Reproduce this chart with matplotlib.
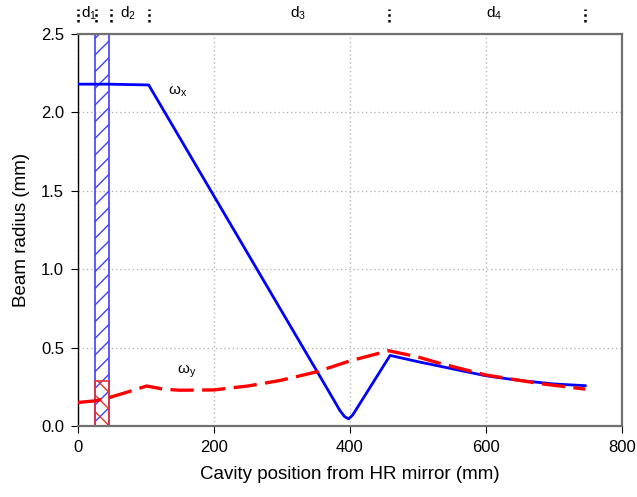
import matplotlib
matplotlib.use("Agg")
from matplotlib import pyplot as plt

plt.rcParams['font.family'] = ['Liberation Sans', 'DejaVu Sans']
plt.rcParams['mathtext.default'] = 'regular'

# beam radius along the cavity (mm)
wx_pos = [0, 45, 104, 370, 385, 392, 398, 404, 412, 459, 500, 550, 600, 650, 700, 746]
wx = [2.18, 2.18, 2.175, 0.212, 0.10, 0.06, 0.045, 0.07, 0.125, 0.45, 0.41, 0.365, 0.32, 0.29, 0.268, 0.257]

wy_pos = [0, 25, 45, 72, 101, 125, 150, 200, 250, 297, 351, 400, 457, 500, 532, 600, 680, 746]
wy = [0.15, 0.16, 0.18, 0.215, 0.255, 0.235, 0.228, 0.23, 0.255, 0.29, 0.345, 0.415, 0.48, 0.44, 0.40, 0.325, 0.27, 0.235]

# crystal region
crystal_start = 25
crystal_end = 45
crystal_wy = 0.29

# element positions and section labels
markers = [0, 26, 48, 104, 457, 746]
sections = ["d$_1$", "d$_2$", "d$_3$", "d$_4$"]
section_pos = [4, 62, 312, 600]

fig = plt.figure(figsize=(6.37, 4.97), dpi=100)
ax = fig.add_axes([0.1224, 0.1429, 0.854, 0.7887])

ax.bar(crystal_start, 2.5, width=crystal_end - crystal_start, align='edge',
       facecolor='none', edgecolor='#4040ff', hatch='//', lw=1.2, zorder=2)
ax.bar(crystal_start, crystal_wy, width=crystal_end - crystal_start, align='edge',
       facecolor='none', edgecolor='#e83030', hatch='\\\\', lw=1.2, zorder=2)

ax.plot(wx_pos, wx, color='#0000ff', lw=2.0, zorder=4)
ax.plot(wy_pos, wy, color='#ff0000', lw=2.4, linestyle=(0, (7, 2.5)), zorder=5)

ax.text(132, 2.13, r"$\omega_x$", fontsize=11, ha='left', va='center')
ax.text(146, 0.345, r"$\omega_y$", fontsize=11, ha='left', va='center')

tr = ax.get_xaxis_transform()
for m in markers:
    ax.plot([m, m], [1.03, 1.065], transform=tr, clip_on=False, color='k',
            lw=1.8, linestyle=(0, (1, 1.3)))
for s, p in zip(sections, section_pos):
    ax.text(p, 1.053, s, transform=tr, fontsize=11, ha='left', va='center')

ax.set_xlim(0, 800)
ax.set_ylim(0, 2.5)
ax.set_xticks([0, 200, 400, 600, 800])
ax.set_yticks([0.0, 0.5, 1.0, 1.5, 2.0, 2.5])
ax.set_yticklabels(["0.0", "0.5", "1.0", "1.5", "2.0", "2.5"])
ax.tick_params(direction='out', length=5, labelsize=12, pad=5)
ax.grid(True, color='#b8b8b8', linestyle=(0, (1, 2)), lw=1)

for side in ['top', 'right', 'bottom']:
    ax.spines[side].set_color('#707070')
    ax.spines[side].set_linewidth(1.6)
ax.spines['left'].set_color('k')
ax.spines['left'].set_linewidth(1.0)

ax.set_xlabel("Cavity position from HR mirror (mm)", fontsize=13.5, labelpad=8)
ax.set_ylabel("Beam radius (mm)", fontsize=13.5, labelpad=8)

plt.savefig("out.png", dpi=100)
plt.close(fig)
